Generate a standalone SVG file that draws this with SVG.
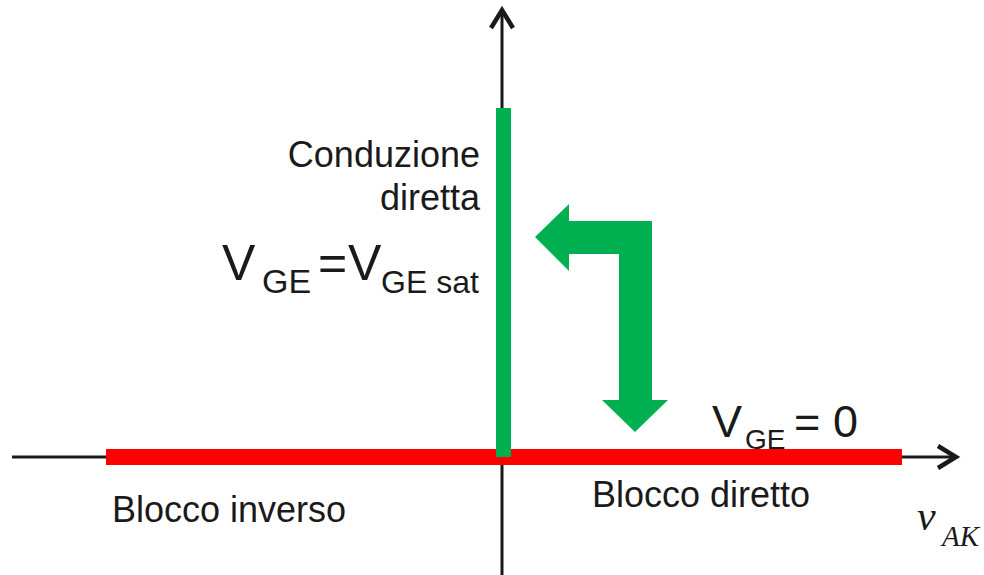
<svg xmlns="http://www.w3.org/2000/svg" width="984" height="575" viewBox="0 0 984 575">
<style>
.ax{stroke:#1a1a1a;stroke-width:3;fill:none}
.hd{stroke:#1a1a1a;stroke-width:4.5;fill:none;stroke-linejoin:miter;stroke-linecap:butt}
.t{font-family:"Liberation Sans",Arial,sans-serif;fill:#1a1a1a}
.m{font-family:"Liberation Serif","Times New Roman",serif;font-style:italic;fill:#1a1a1a}
</style>
<rect width="984" height="575" fill="#ffffff"/>
<g id="connectors">
<line class="ax" x1="12" y1="457" x2="955" y2="457"/>
<polyline class="hd" points="938,446 956,457 938,468"/>
<line class="ax" x1="502" y1="575" x2="502" y2="10"/>
<polyline class="hd" points="491,28 502,10 513,28"/>
</g>
<g id="labels">
<text class="t" x="480" y="167" font-size="36" text-anchor="end">Conduzione</text>
<text class="t" x="480" y="210" font-size="36" text-anchor="end">diretta</text>
<text class="t" font-size="50" y="280"><tspan x="222">V</tspan><tspan x="262" y="293" font-size="34">GE</tspan><tspan x="318" y="280">=</tspan><tspan x="348" y="280">V</tspan><tspan x="381" y="293" font-size="32">GE sat</tspan></text>
<text class="t" font-size="45" y="437"><tspan x="712">V</tspan><tspan x="745" y="449" font-size="28">GE</tspan><tspan x="794" y="437">=</tspan><tspan x="833" y="437">0</tspan></text>
<text class="t" x="112" y="522" font-size="36">Blocco inverso</text>
<text class="t" x="592" y="507" font-size="36">Blocco diretto</text>
<text class="m" font-size="42" y="530"><tspan x="917">v</tspan><tspan x="942" y="546" font-size="29">AK</tspan></text>
</g>
<g id="red-bar"><rect x="106" y="449" width="796" height="16" fill="#ff0000"/></g>
<g id="green-bar"><rect x="496" y="108" width="15" height="349" fill="#00b050"/></g>
<g id="green-arrow"><polygon fill="#00b050" points="535,237 569,204 569,221 652,221 652,400 668,400 635,432 602,400 619,400 619,254 569,254 569,271"/></g>
</svg>
